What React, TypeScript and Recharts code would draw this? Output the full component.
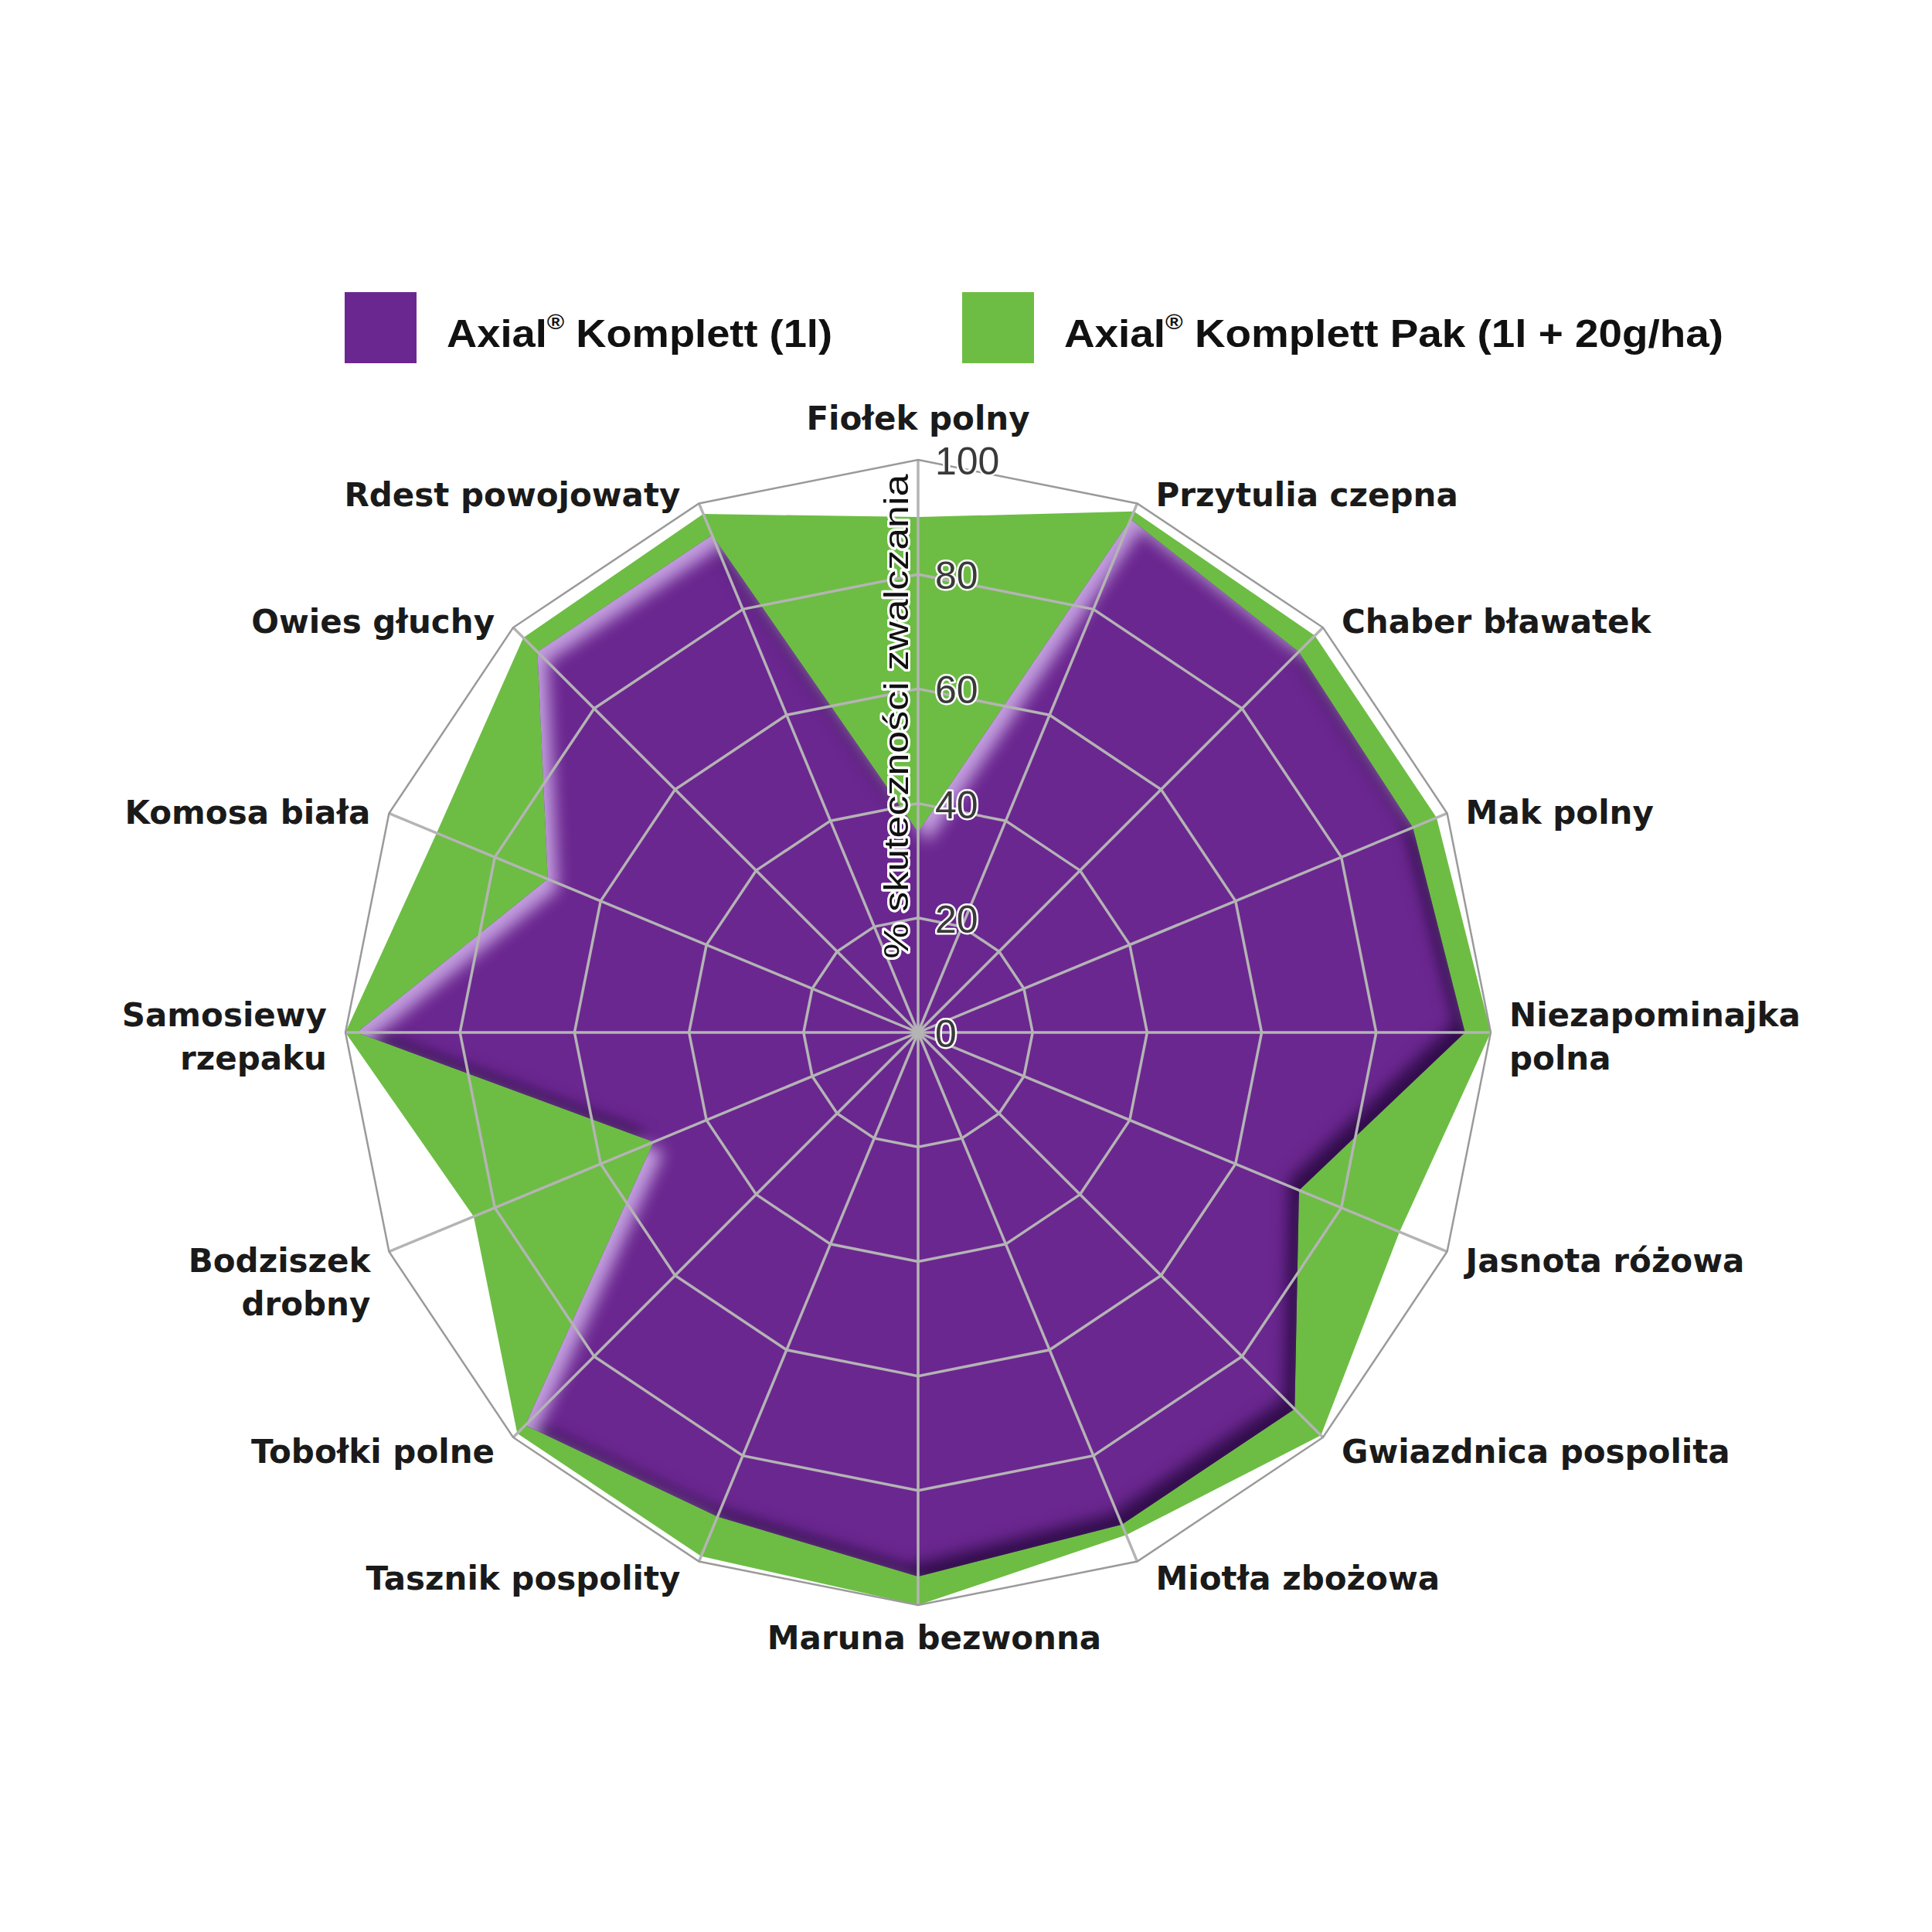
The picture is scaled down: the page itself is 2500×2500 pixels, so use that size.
import React from 'react';
import { RadarChart, Radar, PolarGrid, PolarAngleAxis, PolarRadiusAxis } from 'recharts';

/* ── Data ──────────────────────────────────────────────────────────── */
const WEEDS = [
  'Fiołek polny', 'Przytulia czepna', 'Chaber bławatek', 'Mak polny',
  'Niezapominajka polna', 'Jasnota różowa', 'Gwiazdnica pospolita', 'Miotła zbożowa',
  'Maruna bezwonna', 'Tasznik pospolity', 'Tobołki polne', 'Bodziszek drobny',
  'Samosiewy rzepaku', 'Komosa biała', 'Owies głuchy', 'Rdest powojowaty',
];
const LABEL_LINES = [
  ['Fiołek polny'], ['Przytulia czepna'], ['Chaber bławatek'], ['Mak polny'],
  ['Niezapominajka', 'polna'], ['Jasnota różowa'], ['Gwiazdnica pospolita'], ['Miotła zbożowa'],
  ['Maruna bezwonna'], ['Tasznik pospolity'], ['Tobołki polne'], ['Bodziszek', 'drobny'],
  ['Samosiewy', 'rzepaku'], ['Komosa biała'], ['Owies głuchy'], ['Rdest powojowaty'],
];
const KOMPLETT = [35, 97, 94, 93.5, 95.5, 72, 93, 93, 95, 91.5, 97, 50, 98, 70, 94, 94];
const KOMPLETT_PAK = [90, 98.5, 98, 98, 100, 91, 99.5, 95, 100, 99, 99, 84, 100, 91, 97.5, 98];
const RADIUS_TICKS = [0, 20, 40, 60, 80, 100];
const INNER_RINGS = [20, 40, 60, 80];
const AXIS_TITLE = '% skuteczności zwalczania';
const LEGEND_1 = ['Axial', '®', ' Komplett (1l)'];
const LEGEND_2 = ['Axial', '®', ' Komplett Pak (1l + 20g/ha)'];

const data = WEEDS.map((w, i) => ({ weed: w, komplett: KOMPLETT[i], pak: KOMPLETT_PAK[i] }));

/* ── Layout ────────────────────────────────────────────────────────── */
const W = 2500;
const H = 2500;
const CX = 1188;
const CY = 1336;
const R = 741;
const MARGIN = { top: 0, right: 0, bottom: 0, left: 0 };

const PURPLE = '#6b2790';
const GREEN = '#6dbd44';
const GRID = '#b4b4b4';
const OUTER = '#9a9a9a';
const LABEL_FONT = '"DejaVu Sans", Verdana, sans-serif';
const LINE_H = 56;

const scale = (v: number) => (v / 100) * R;

const AngleTick = (props: any) => {
  const { x, y, index } = props;
  const dx = x - CX;
  const dy = y - CY;
  const d = Math.hypot(dx, dy) || 1;
  const ux = dx / d;
  const uy = dy / d;
  const vx = CX + ux * R;
  const vy = CY + uy * R;
  const lines = LABEL_LINES[index] ?? [String(props.payload?.value ?? '')];
  let anchor: 'start' | 'end' | 'middle';
  let tx: number;
  let ty: number;
  if (Math.abs(ux) < 0.05) {
    anchor = 'middle';
    tx = vx + (uy > 0 ? 21 : 0);
    ty = uy < 0 ? vy - 54 : vy + 42;
  } else {
    anchor = ux > 0 ? 'start' : 'end';
    tx = vx + (ux > 0 ? 24 : -24);
    ty = vy + 18 * uy + 5;
    if (Math.abs(uy) < 0.05) ty -= ((lines.length - 1) * LINE_H) / 2;
  }
  return (
    <text x={tx} y={ty} textAnchor={anchor} dominantBaseline="central"
      fontFamily={LABEL_FONT} fontWeight={700} fontSize={42} fill="#1a1a1a">
      {lines.map((l, i) => (
        <tspan key={i} x={tx} dy={i === 0 ? 0 : LINE_H}>{l}</tspan>
      ))}
    </text>
  );
};

const RadiusTick = (props: any) => {
  const { x, y, payload } = props;
  return (
    <text x={x + 22} y={y + 2} textAnchor="start" dominantBaseline="central"
      fontFamily='"Liberation Sans", Arial, sans-serif' fontSize={50} fill="#3a3a3a"
      stroke="#ffffff" strokeWidth={5} paintOrder="stroke" strokeLinejoin="round">
      {payload.value}
    </text>
  );
};

const bevelShape = (props: any) => {
  const pts: Array<{ x: number; y: number }> = props.points || [];
  if (!pts.length) return null;
  const dAttr = pts.map((p, i) => `${i ? 'L' : 'M'}${p.x},${p.y}`).join(' ') + ' Z';
  return <path d={dAttr} fill={PURPLE} stroke="none" filter="url(#purpleBevel)" />;
};

const LegendItem: React.FC<{ x: number; color: string; parts: string[]; textLen: number }> = ({ x, color, parts, textLen }) => (
  <g>
    <rect x={x} y={378} width={93} height={92} fill={color} />
    <text x={x + 132} y={432} dominantBaseline="central" fontFamily='"Liberation Sans", Arial, sans-serif'
      fontWeight={700} fontSize={50} fill="#111" textLength={textLen} lengthAdjust="spacingAndGlyphs">
      {parts[0]}
      <tspan fontSize={28} dy={-16}>{parts[1]}</tspan>
      <tspan dy={16}>{parts[2]}</tspan>
    </text>
  </g>
);

export default function App() {
  const abs: React.CSSProperties = { position: 'absolute', left: 0, top: 0 };
  return (
    <div style={{ ...abs, width: W, height: H, background: '#ffffff' }}>
      <svg width={0} height={0} style={{ position: 'absolute' }}>
        <defs>
          <filter id="purpleBevel" x="-10%" y="-10%" width="120%" height="120%" colorInterpolationFilters="sRGB">
            <feComponentTransfer in="SourceAlpha" result="inv">
              <feFuncA type="table" tableValues="1 0" />
            </feComponentTransfer>
            <feGaussianBlur in="inv" stdDeviation="10" result="invBlur" />
            <feOffset in="invBlur" dx="-13" dy="-13" result="shOff" />
            <feFlood floodColor="#2c0a45" floodOpacity="0.95" />
            <feComposite in2="shOff" operator="in" result="sh" />
            <feComposite in="sh" in2="SourceAlpha" operator="in" result="shIn" />
            <feOffset in="invBlur" dx="13" dy="13" result="hlOff" />
            <feFlood floodColor="#c7a4e2" floodOpacity="0.95" />
            <feComposite in2="hlOff" operator="in" result="hl" />
            <feComposite in="hl" in2="SourceAlpha" operator="in" result="hlIn" />
            <feMerge>
              <feMergeNode in="SourceGraphic" />
              <feMergeNode in="shIn" />
              <feMergeNode in="hlIn" />
            </feMerge>
          </filter>
        </defs>
      </svg>

      {/* fills */}
      <div style={abs}>
        <RadarChart width={W} height={H} data={data} cx={CX} cy={CY} outerRadius={R} margin={MARGIN}>
          <PolarAngleAxis dataKey="weed" tick={false} tickLine={false} axisLine={false} />
          <PolarRadiusAxis domain={[0, 100]} ticks={RADIUS_TICKS} tick={false} axisLine={false} angle={90} />
          <Radar dataKey="pak" name="Axial® Komplett Pak (1l + 20g/ha)" fill={GREEN} fillOpacity={1} stroke="none" isAnimationActive={false} />
          <Radar dataKey="komplett" name="Axial® Komplett (1l)" fill={PURPLE} fillOpacity={1} stroke="none" shape={bevelShape} isAnimationActive={false} />
        </RadarChart>
      </div>

      {/* grid, axes and labels on top of the fills */}
      <div style={abs}>
        <RadarChart width={W} height={H} data={data} cx={CX} cy={CY} outerRadius={R} margin={MARGIN}>
          <PolarGrid gridType="polygon" polarRadius={INNER_RINGS.map(scale)} stroke={GRID} strokeWidth={3.5} />
          <PolarGrid gridType="polygon" polarRadius={[R]} radialLines={false} stroke={OUTER} strokeWidth={2.5} />
          <PolarAngleAxis dataKey="weed" tick={<AngleTick />} tickLine={false} axisLine={false} />
          <PolarRadiusAxis domain={[0, 100]} ticks={RADIUS_TICKS} angle={90} tick={<RadiusTick />} tickLine={false} axisLine={false} />
          <Radar dataKey="pak" fill="none" stroke="none" isAnimationActive={false} />
        </RadarChart>
      </div>

      <svg width={W} height={H} style={abs}>
        <text x={1159} y={927} transform="rotate(-90 1159 927)" textAnchor="middle" dominantBaseline="central"
          fontFamily='"Liberation Sans", Arial, sans-serif' fontSize={45} fill="#111"
          stroke="#fff" strokeWidth={6} paintOrder="stroke" strokeLinejoin="round"
          textLength={627} lengthAdjust="spacingAndGlyphs">
          {AXIS_TITLE}
        </text>
        <LegendItem x={446} color={PURPLE} parts={LEGEND_1} textLen={499} />
        <LegendItem x={1245} color={GREEN} parts={LEGEND_2} textLen={853} />
      </svg>
    </div>
  );
}
